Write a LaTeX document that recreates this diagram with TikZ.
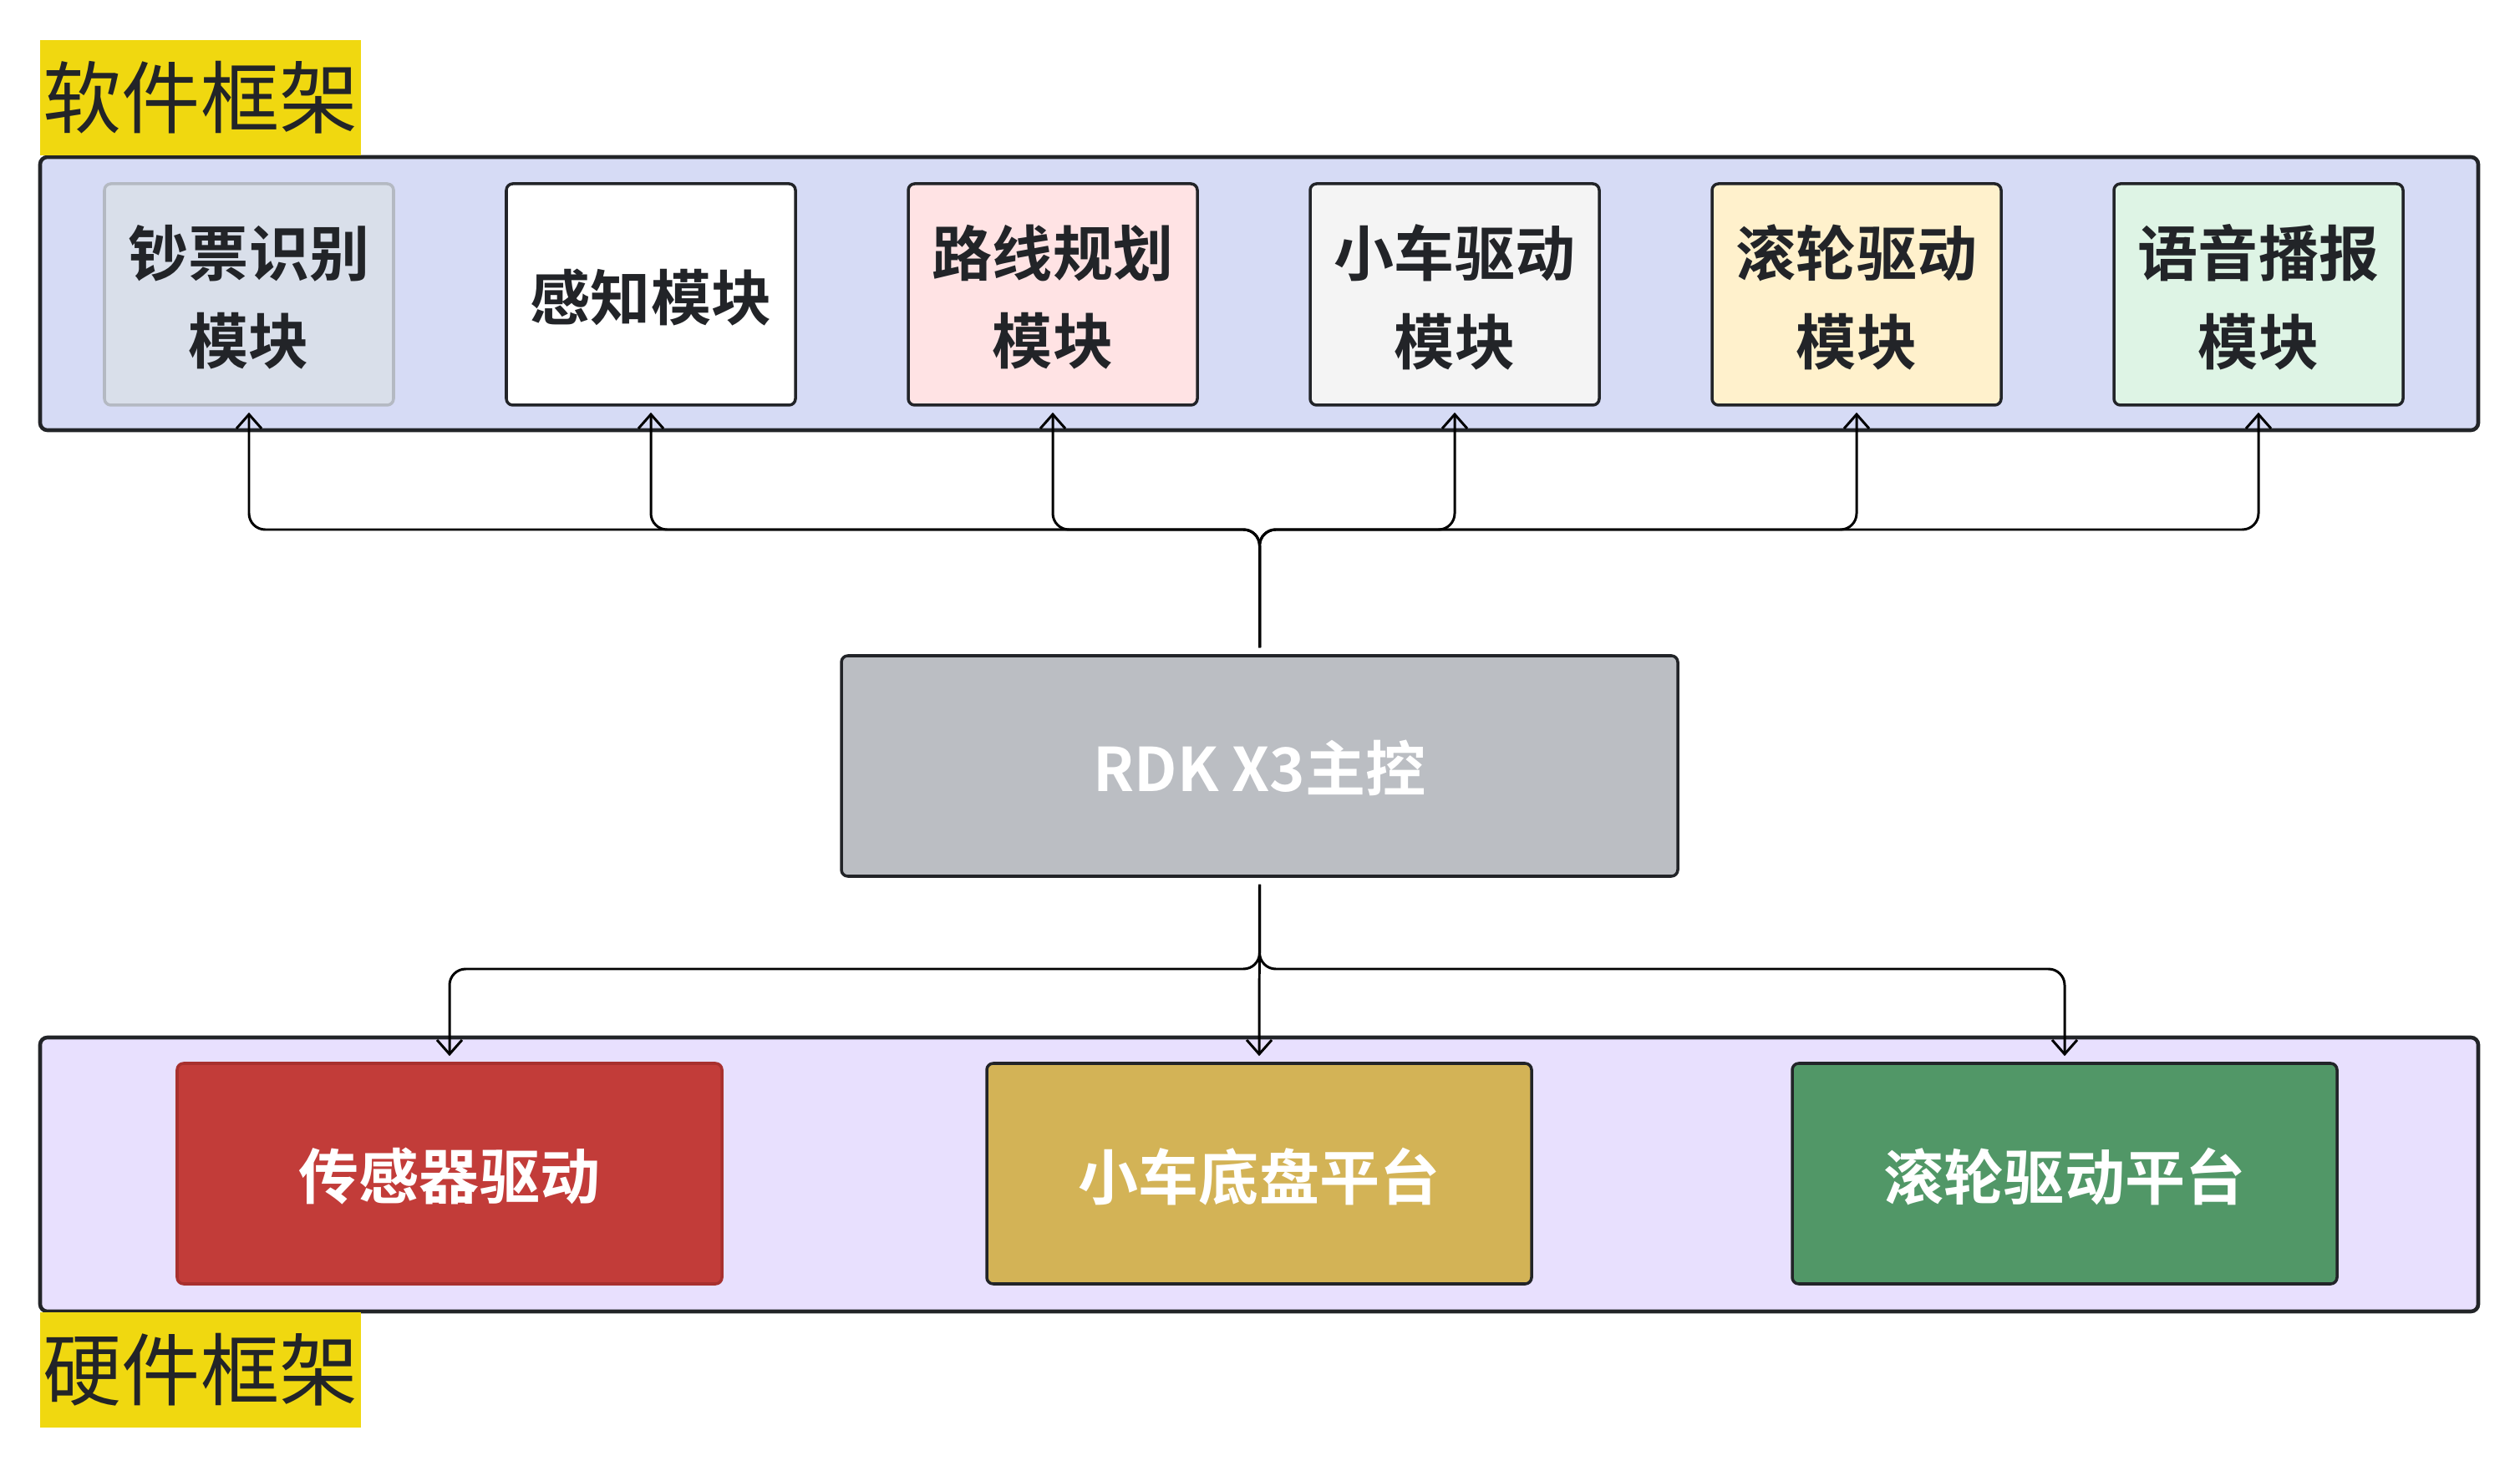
\documentclass[tikz,border=0pt]{standalone}
\usepackage{fontspec}
\setmainfont{Noto Sans CJK SC}[BoldFont={Noto Sans CJK SC Bold}]
\usetikzlibrary{arrows.meta}
\definecolor{ink}{RGB}{34,36,40}
\definecolor{tagyellow}{RGB}{240,216,16}
\definecolor{swbg}{RGB}{214,219,245}
\definecolor{hwbg}{RGB}{232,224,254}
\definecolor{mgray}{RGB}{217,223,234}
\definecolor{mgrayline}{RGB}{180,185,194}
\definecolor{mpink}{RGB}{255,227,228}
\definecolor{mlight}{RGB}{244,244,244}
\definecolor{mcream}{RGB}{255,241,204}
\definecolor{mmint}{RGB}{222,244,229}
\definecolor{ctrlgray}{RGB}{187,190,195}
\definecolor{hwred}{RGB}{194,60,57}
\definecolor{hwredline}{RGB}{168,48,46}
\definecolor{hwgold}{RGB}{211,179,86}
\definecolor{hwgreen}{RGB}{81,151,103}

\begin{document}
\begin{tikzpicture}[layer/.style={draw=ink, line width=1.3pt, rounded corners=2.5pt},
                    tag/.style={fill=tagyellow, text=ink, inner sep=0pt,
                                minimum width=3.84cm, minimum height=1.38cm,
                                font=\fontsize{26.8}{30}\selectfont},
                    modbox/.style={draw=ink, line width=1pt, rounded corners=2.2pt,
                                   minimum width=3.46cm, minimum height=2.65cm,
                                   inner sep=0pt, align=center, text=ink, text depth=0pt,
                                   font=\fontsize{20.5}{30}\selectfont\bfseries},
                    hwbox/.style={modbox, minimum width=6.52cm, minimum height=2.64cm,
                                  text=white},
                    link/.style={line width=0.85pt, rounded corners=5.5pt,
                                 shorten <=2.3pt, shorten >=2pt,
                                 -{Straight Barb[length=1.7mm,width=3mm]}}]
  \useasboundingbox (0,0) rectangle (30.16,17.6);

  % the two framework layers
  \draw[layer, fill=swbg] (0.48,12.45) rectangle (29.66,15.72);
  \draw[layer, fill=hwbg] (0.48,1.90)  rectangle (29.66,5.18);
  \node[tag] (swtag) at (2.40,16.43) {\raisebox{-2.5pt}{软件框架}};
  \node[tag] (hwtag) at (2.40,1.20)  {\raisebox{-2.5pt}{硬件框架}};

  % software modules
  \node[modbox, fill=mgray, draw=mgrayline] (m1) at (2.98,14.075)  {钞票识别\\模块};
  \node[modbox, fill=white]                 (m2) at (7.79,14.075)  {感知模块};
  \node[modbox, fill=mpink]                 (m3) at (12.60,14.075) {路线规划\\模块};
  \node[modbox, fill=mlight]                (m4) at (17.41,14.075) {小车驱动\\模块};
  \node[modbox, fill=mcream]                (m5) at (22.22,14.075) {滚轮驱动\\模块};
  \node[modbox, fill=mmint]                 (m6) at (27.03,14.075) {语音播报\\模块};

  % main controller
  \node[hwbox, fill=ctrlgray, minimum width=10.01cm] (ctrl) at (15.075,8.43) {RDK X3主控};

  % hardware platforms
  \node[hwbox, fill=hwred, draw=hwredline] (h1) at (5.38,3.55)  {传感器驱动};
  \node[hwbox, fill=hwgold]                (h2) at (15.07,3.55) {小车底盘平台};
  \node[hwbox, fill=hwgreen]               (h3) at (24.71,3.55) {滚轮驱动平台};

  % buses
  \coordinate (busup) at (15.075,11.26);
  \coordinate (busdn) at (15.075,6.00);
  \foreach \m in {m1,m2,m3,m4,m5,m6}
    \draw[link] (ctrl.north) -- (busup) -| (\m.south);
  \foreach \h in {h1,h3}
    \draw[link] (ctrl.south) -- (busdn) -| (\h.north);
  \draw[link] (ctrl.south) -- (h2.north);
\end{tikzpicture}
\end{document}
